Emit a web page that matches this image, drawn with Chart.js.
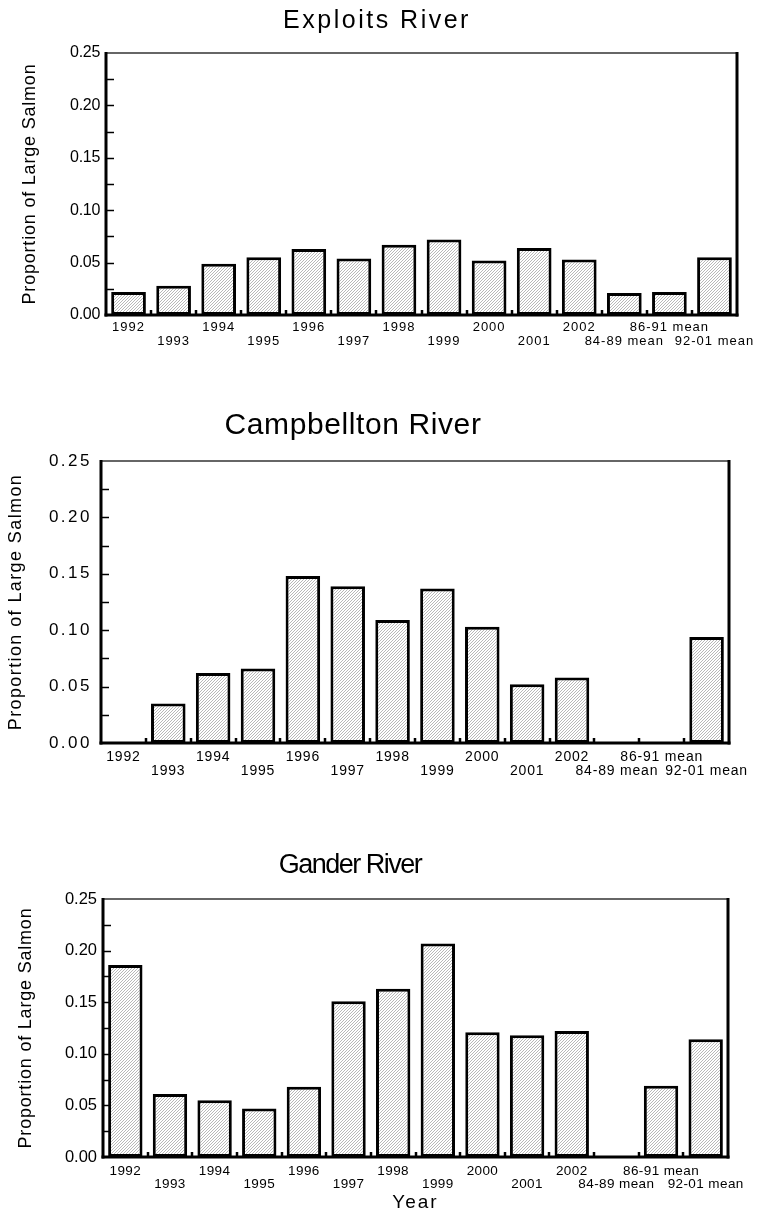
<!DOCTYPE html>
<html>
<head>
<meta charset="utf-8">
<script src="https://cdn.jsdelivr.net/npm/chart.js@4.4.1/dist/chart.umd.min.js"></script>
<style>
  body { margin: 0; background: #fff; }
  #wrap { position: relative; width: 758px; height: 1213px; }
  canvas { position: absolute; left: 0; }
</style>
</head>
<body>
<div id="wrap">
  <canvas id="exploits" width="758" height="370" style="top:0"></canvas>
  <canvas id="campbellton" width="758" height="430" style="top:370px"></canvas>
  <canvas id="gander" width="758" height="413" style="top:800px"></canvas>
</div>
<script>
// categories (years, then the reference means)
const years = ['1992', '1993', '1994', '1995', '1996', '1997', '1998', '1999',
    '2000', '2001', '2002', '84-89 mean', '86-91 mean', '92-01 mean'];

// proportion of large salmon
const exploits = [0.022, 0.028, 0.049, 0.055, 0.063, 0.054, 0.067, 0.072,
    0.052, 0.064, 0.053, 0.021, 0.022, 0.055];
const campbellton = [0, 0.035, 0.062, 0.066, 0.148, 0.139, 0.109, 0.137,
    0.103, 0.052, 0.058, null, null, 0.094];
const gander = [0.186, 0.061, 0.055, 0.047, 0.068, 0.151, 0.163, 0.207,
    0.121, 0.118, 0.122, null, 0.069, 0.114];

const yMax = 0.25;
const yStep = 0.05;
const yMinorStep = 0.025;

const FONT = "Arial, 'Liberation Sans', sans-serif";
Chart.defaults.color = '#000';
Chart.defaults.font.family = FONT;

// alternate labels between two rows, like the original
function stagger(labels) {
    return labels.map((l, i) => (i % 2 ? ['', l] : l));
}

// fine diagonal hatch used for the bars
function hatch(ctx) {
    const c = document.createElement('canvas');
    c.width = c.height = 3;
    const g = c.getContext('2d');
    g.fillStyle = '#fff';
    g.fillRect(0, 0, 3, 3);
    g.strokeStyle = '#b0b0b0';
    g.lineWidth = 0.9;
    g.beginPath();
    g.moveTo(0, 3); g.lineTo(3, 0);
    g.moveTo(-1, 1); g.lineTo(1, -1);
    g.moveTo(2, 4); g.lineTo(4, 2);
    g.stroke();
    return ctx.createPattern(c, 'repeat');
}

// fix the scale box size and draw its text with some letter spacing
function fitScale(size, tickSpacing, titleSpacing) {
    return function (scale) {
        if (scale.isHorizontal()) scale.height = size;
        else scale.width = size;
        scale.paddingLeft = scale.paddingRight = 0;
        scale.paddingTop = scale.paddingBottom = 0;
        if (!scale._spaced) {
            scale._spaced = true;
            const drawLabels = scale.drawLabels;
            const drawTitle = scale.drawTitle;
            scale.drawLabels = function (area) {
                this.ctx.save();
                this.ctx.letterSpacing = tickSpacing + 'px';
                drawLabels.call(this, area);
                this.ctx.restore();
            };
            scale.drawTitle = function (area) {
                this.ctx.save();
                this.ctx.letterSpacing = titleSpacing + 'px';
                drawTitle.call(this, area);
                this.ctx.restore();
            };
        }
    };
}

// box frame with inward tick marks
const framePlugin = {
    id: 'frame',
    afterDatasetsDraw(chart) {
        const { ctx, chartArea: a, scales: { x, y } } = chart;
        const line = (x1, y1, x2, y2) => {
            ctx.beginPath(); ctx.moveTo(x1, y1); ctx.lineTo(x2, y2); ctx.stroke();
        };
        ctx.save();
        ctx.strokeStyle = '#000';
        ctx.lineWidth = 1.5;
        for (let k = 1; k * yMinorStep < yMax - 1e-9; k++) {
            const py = Math.round(y.getPixelForValue(k * yMinorStep)) + 0.5;
            line(a.left, py, a.left + 8, py);
        }
        ctx.lineWidth = 2.5;
        for (let i = 0; i < years.length - 1; i++) {
            const px = Math.round(x.getPixelForValue(i + 0.5));
            line(px, a.bottom, px, a.bottom - 5);
        }
        ctx.strokeStyle = '#333';
        ctx.lineWidth = 1.5;
        line(a.left, a.top, a.right, a.top);
        ctx.strokeStyle = '#000';
        ctx.lineWidth = 3;
        line(a.left, a.top - 1, a.left, a.bottom + 1.5);
        line(a.left - 1.5, a.bottom, a.right + 1.5, a.bottom);
        line(a.right, a.top - 1, a.right, a.bottom + 1.5);
        ctx.restore();
    }
};

// panel heading, placed like the original
const panelTitle = {
    id: 'panelTitle',
    afterDraw(chart, args, opts) {
        const ctx = chart.ctx;
        ctx.save();
        ctx.font = opts.size + 'px ' + FONT;
        ctx.letterSpacing = opts.spacing + 'px';
        ctx.fillStyle = '#000';
        ctx.textAlign = 'center';
        ctx.textBaseline = 'alphabetic';
        ctx.fillText(opts.text, opts.x, opts.y);
        ctx.restore();
    }
};

function riverChart(id, values, p) {
    const canvas = document.getElementById(id);
    const ctx = canvas.getContext('2d');
    return new Chart(canvas, {
        type: 'bar',
        data: {
            labels: stagger(years),
            datasets: [{
                data: values,
                backgroundColor: hatch(ctx),
                borderColor: '#000',
                borderWidth: 3,
                borderSkipped: false,
                barPercentage: 0.77,
                categoryPercentage: 1
            }]
        },
        options: {
            responsive: false,
            animation: false,
            devicePixelRatio: 1,
            layout: { padding: { left: 0, top: p.top, right: p.right, bottom: 0 } },
            plugins: {
                legend: { display: false },
                tooltip: { enabled: false },
                panelTitle: p.title
            },
            scales: {
                x: {
                    grid: { display: false, drawTicks: false },
                    border: { display: false },
                    ticks: {
                        autoSkip: false,
                        maxRotation: 0,
                        minRotation: 0,
                        padding: p.xPad,
                        font: { size: p.xFont, lineHeight: '13.6px' }
                    },
                    title: p.xTitle || { display: false },
                    afterFit: fitScale(p.xHeight, p.xSpacing, 2)
                },
                y: {
                    min: 0,
                    max: yMax,
                    grid: { display: false, drawTicks: false },
                    border: { display: false },
                    ticks: {
                        stepSize: yStep,
                        padding: p.yPad,
                        font: { size: p.yFont },
                        callback: (v) => v.toFixed(2)
                    },
                    title: {
                        display: true,
                        text: 'Proportion of Large Salmon',
                        font: { size: p.yTitleFont, lineHeight: p.yTitleFont + 'px' },
                        padding: { top: p.yTitlePad, bottom: 0 }
                    },
                    afterFit: fitScale(p.left, p.ySpacing, p.yTitleSpacing)
                }
            }
        },
        plugins: [framePlugin, panelTitle]
    });
}

riverChart('exploits', exploits, {
    top: 53, right: 21, left: 106, xHeight: 55,
    xPad: 6, xFont: 13, xSpacing: 1,
    yPad: 6, yFont: 16, ySpacing: -0.3,
    yTitleFont: 18, yTitlePad: 21, yTitleSpacing: 0.8,
    title: { text: 'Exploits River', x: 377, y: 28, size: 25, spacing: 2.5 }
});

riverChart('campbellton', campbellton, {
    top: 91, right: 29, left: 101, xHeight: 57,
    xPad: 7.5, xFont: 14, xSpacing: 0.8,
    yPad: 9, yFont: 17, ySpacing: 2.5,
    yTitleFont: 18, yTitlePad: 7, yTitleSpacing: 1.4,
    title: { text: 'Campbellton River', x: 353, y: 64, size: 30, spacing: 0.6 }
});

riverChart('gander', gander, {
    top: 99, right: 30, left: 103, xHeight: 56,
    xPad: 7, xFont: 13.5, xSpacing: 0.4,
    yPad: 6, yFont: 16.5, ySpacing: 0,
    yTitleFont: 18, yTitlePad: 17, yTitleSpacing: 0.8,
    xTitle: {
        display: true,
        text: 'Year',
        font: { size: 19, lineHeight: '19px' },
        padding: { top: 0, bottom: 1 }
    },
    title: { text: 'Gander River', x: 350, y: 73, size: 27, spacing: -1.5 }
});
</script>
</body>
</html>
